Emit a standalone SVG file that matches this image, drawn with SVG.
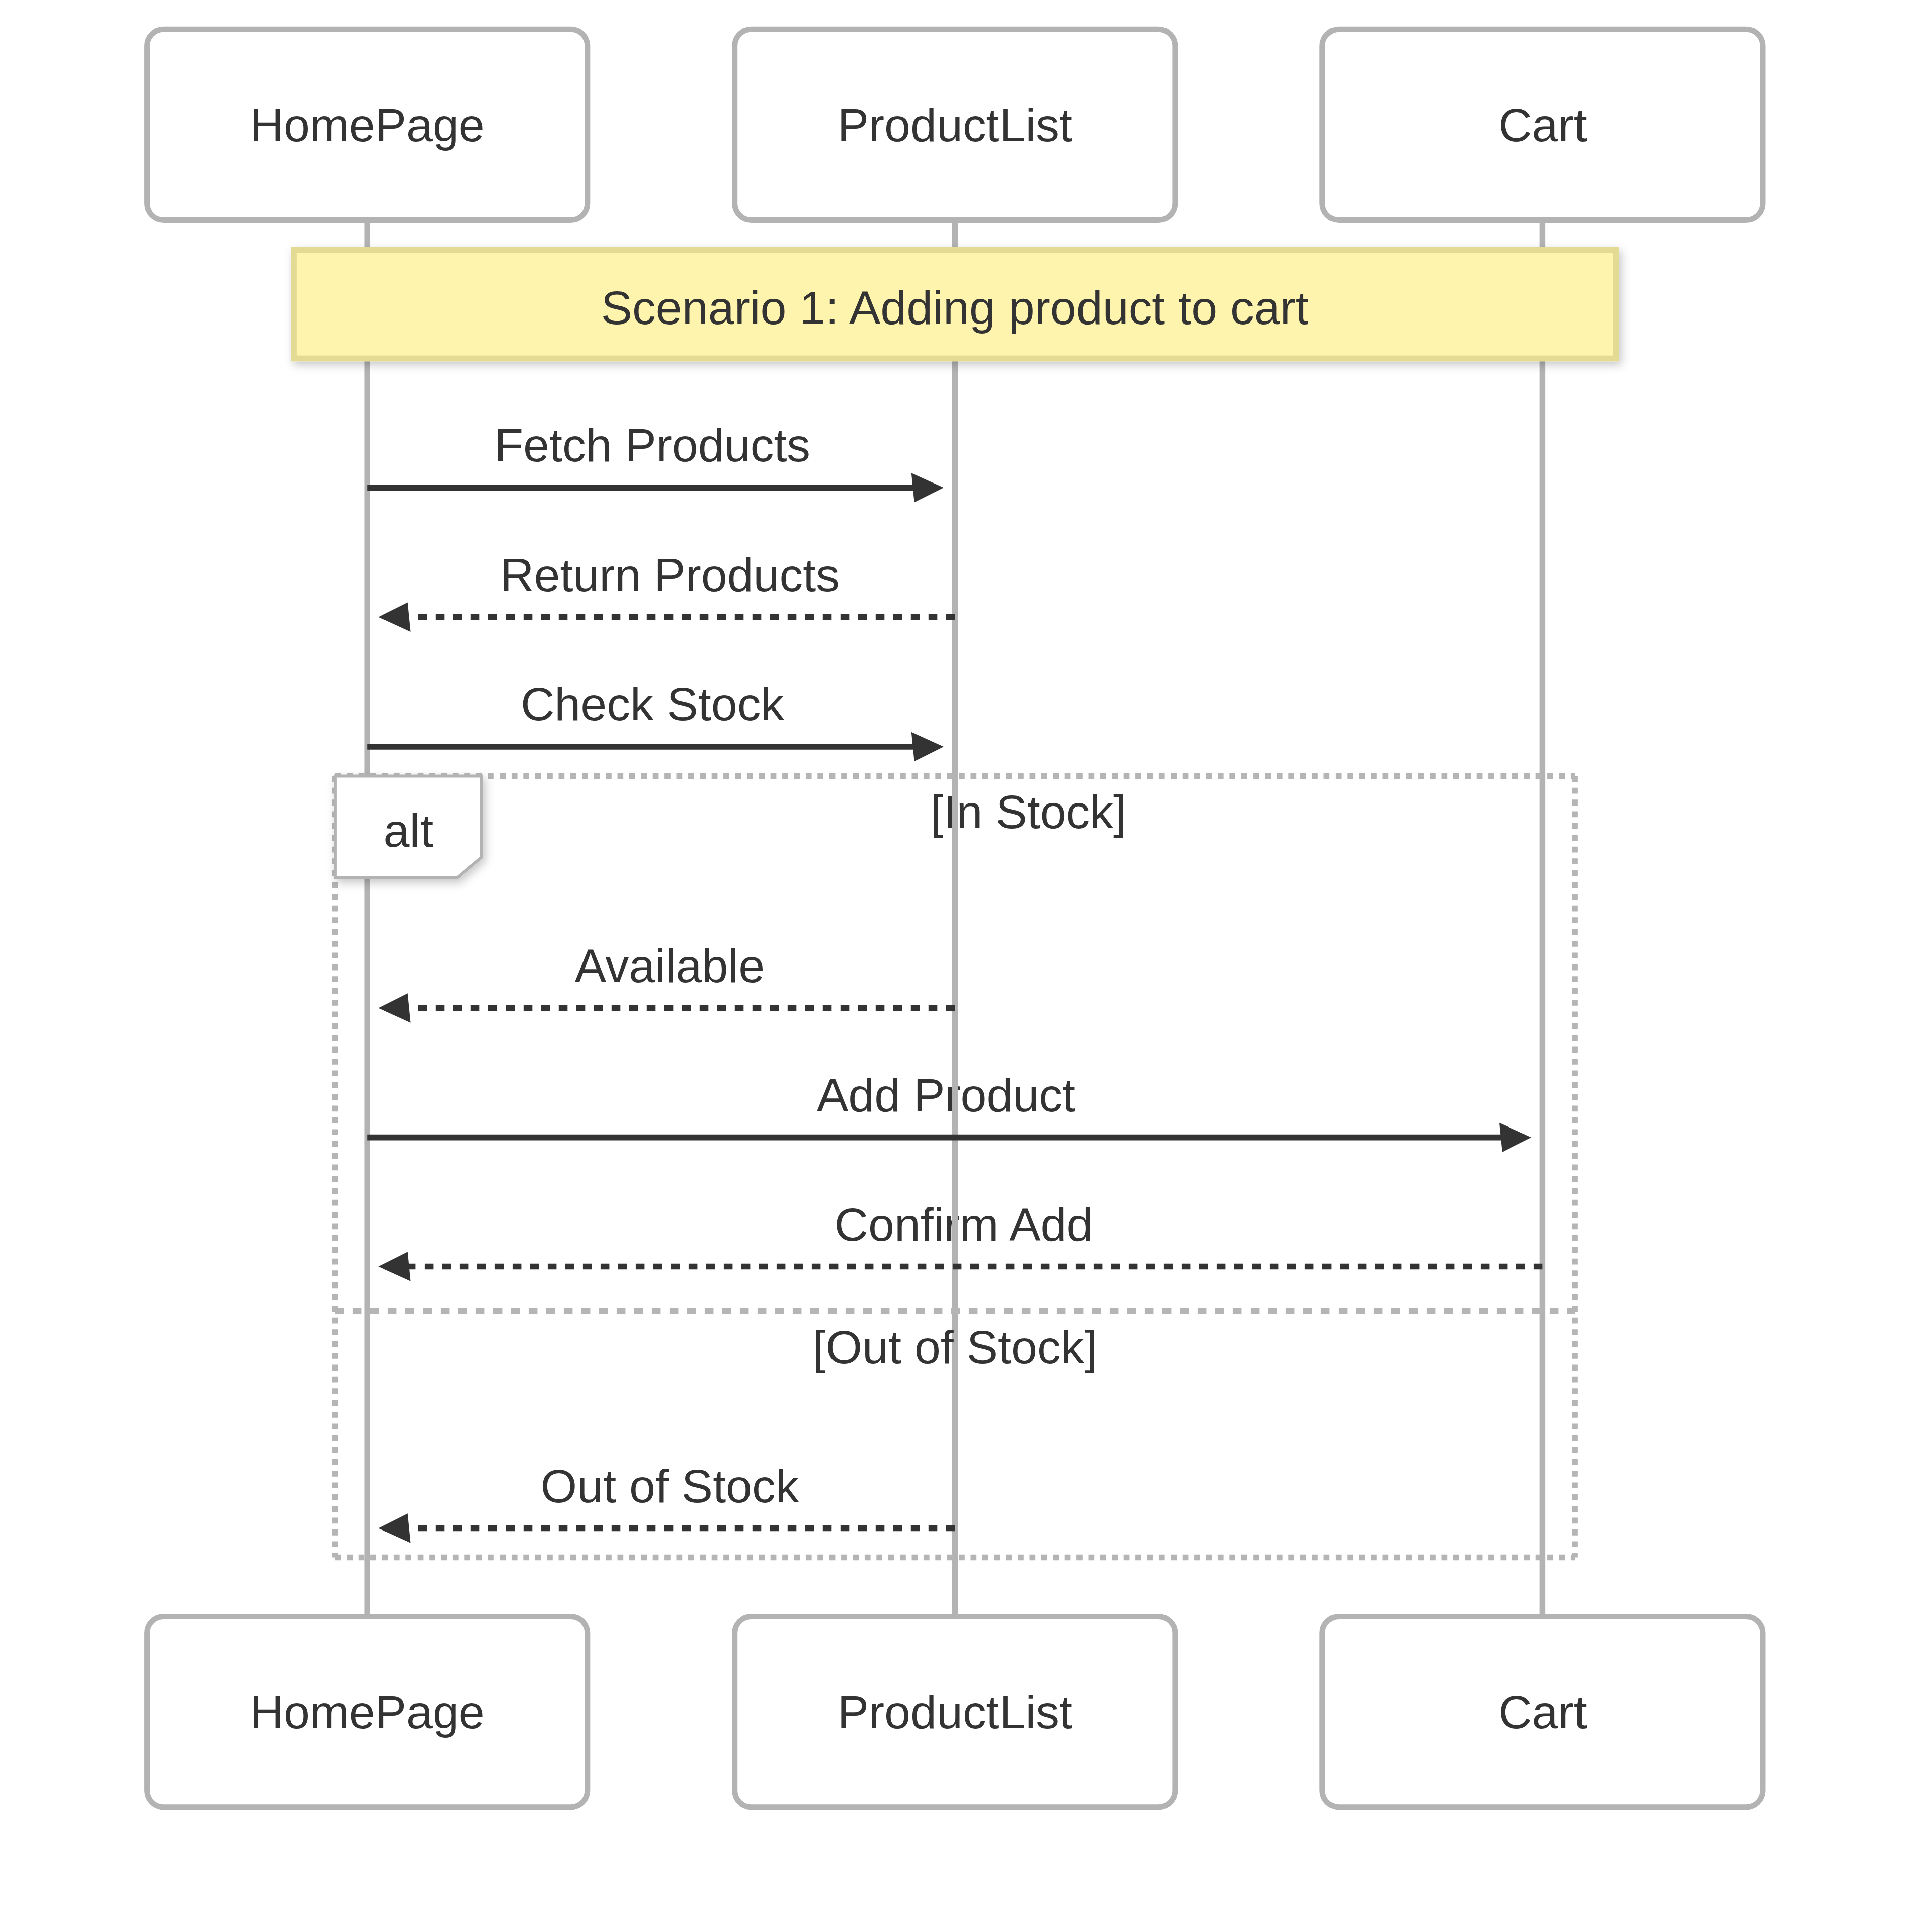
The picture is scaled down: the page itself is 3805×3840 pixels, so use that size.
<svg xmlns="http://www.w3.org/2000/svg" width="3805" height="3840" viewBox="0 0 3805 3840">
<style>
  text { font-family: "Liberation Sans", Arial, sans-serif; font-size: 93.4px; fill: #333333; text-anchor: middle; }
  .actor { fill: #ffffff; stroke: #b3b3b3; stroke-width: 11; }
  .lifeline { stroke: #b3b3b3; stroke-width: 11.5; }
  .msg { stroke: #333333; stroke-width: 11.7; fill: none; }
  .dotted { stroke-dasharray: 17.5 17.5; }
  .loop { stroke: #b5b5b5; stroke-width: 11.7; stroke-dasharray: 11.7 11.7; fill: none; }
  .sect { stroke: #b5b5b5; stroke-width: 11.7; stroke-dasharray: 17.5 17.5; fill: none; }
  .note { fill: #fff4ad; stroke: #e3da94; stroke-width: 11.7; }
  .label { fill: #ffffff; stroke: #b3b3b3; stroke-width: 6; }
</style>
<defs>
  <marker id="arrowhead" markerUnits="userSpaceOnUse" viewBox="-1 0 11 10" markerWidth="64.2" markerHeight="58.4" refX="7.9" refY="5" orient="auto">
    <path d="M -1 0 L 10 5 L 0 10 z" fill="#333333"/>
  </marker>
  <filter id="shadow" x="-10%" y="-30%" width="130%" height="170%">
    <feDropShadow dx="5" dy="7" stdDeviation="9" flood-color="#000000" flood-opacity="0.22"/>
  </filter>
</defs>
<rect x="0" y="0" width="3805" height="3840" fill="#ffffff"/>

<g id="message-labels">
  <text x="1297" y="917.3">Fetch Products</text>
  <text x="1331.5" y="1174.7">Return Products</text>
  <text x="1297" y="1432">Check Stock</text>
  <text x="1331.5" y="1951.5">Available</text>
  <text x="1881" y="2208.7">Add Product</text>
  <text x="1915.5" y="2465.5">Confirm Add</text>
  <text x="1331.5" y="2985.5">Out of Stock</text>
</g>

<g id="lifelines">
  <line class="lifeline" x1="730.2" y1="437.5" x2="730.2" y2="3212.5"/>
  <line class="lifeline" x1="1898.3" y1="437.5" x2="1898.3" y2="3212.5"/>
  <line class="lifeline" x1="3066.4" y1="437.5" x2="3066.4" y2="3212.5"/>
</g>

<g id="actor-HomePage-top">
  <rect class="actor" x="292.6" y="58.3" width="875.2" height="379.2" rx="33" ry="33"/>
  <text x="730.2" y="281.2">HomePage</text>
</g>
<g id="actor-ProductList-top">
  <rect class="actor" x="1460.7" y="58.3" width="875.2" height="379.2" rx="33" ry="33"/>
  <text x="1898.3" y="281.2">ProductList</text>
</g>
<g id="actor-Cart-top">
  <rect class="actor" x="2628.8" y="58.3" width="875.2" height="379.2" rx="33" ry="33"/>
  <text x="3066.4" y="281.2">Cart</text>
</g>

<g id="note-scenario">
  <rect class="note" x="584" y="496.3" width="2628.6" height="216.2" filter="url(#shadow)"/>
  <text x="1898.3" y="644">Scenario 1: Adding product to cart</text>
</g>

<g id="alt-frame">
  <line class="loop" x1="665.9" y1="1542.4" x2="3131" y2="1542.4"/>
  <line class="loop" x1="3131" y1="1542.4" x2="3131" y2="3095.5"/>
  <line class="loop" x1="665.9" y1="3095.5" x2="3131" y2="3095.5"/>
  <line class="loop" x1="665.9" y1="1542.4" x2="665.9" y2="3095.5"/>
  <line class="sect" x1="665.9" y1="2605.8" x2="3131" y2="2605.8"/>
  <polygon class="label" points="665.9,1542.4 957.7,1542.4 957.7,1704 908.6,1745 665.9,1745" filter="url(#shadow)"/>
  <text x="811.8" y="1682.7">alt</text>
  <text x="2044.3" y="1646.4">[In Stock]</text>
  <text x="1898.4" y="2710">[Out of Stock]</text>
</g>

<g id="connectors">
  <line class="msg" x1="730.2" y1="969.3" x2="1863.7" y2="969.3" marker-end="url(#arrowhead)"/>
  <line class="msg dotted" x1="1898.3" y1="1226.7" x2="764.6" y2="1226.7" marker-end="url(#arrowhead)"/>
  <line class="msg" x1="730.2" y1="1484" x2="1863.7" y2="1484" marker-end="url(#arrowhead)"/>
  <line class="msg dotted" x1="1898.3" y1="2003.5" x2="764.6" y2="2003.5" marker-end="url(#arrowhead)"/>
  <line class="msg" x1="730.2" y1="2260.7" x2="3031.9" y2="2260.7" marker-end="url(#arrowhead)"/>
  <line class="msg dotted" x1="3066.4" y1="2517.5" x2="764.6" y2="2517.5" marker-end="url(#arrowhead)"/>
  <line class="msg dotted" x1="1898.3" y1="3037.5" x2="764.6" y2="3037.5" marker-end="url(#arrowhead)"/>
</g>

<g id="actor-HomePage-bottom">
  <rect class="actor" x="292.6" y="3212.5" width="875.2" height="379.2" rx="33" ry="33"/>
  <text x="730.2" y="3435.4">HomePage</text>
</g>
<g id="actor-ProductList-bottom">
  <rect class="actor" x="1460.7" y="3212.5" width="875.2" height="379.2" rx="33" ry="33"/>
  <text x="1898.3" y="3435.4">ProductList</text>
</g>
<g id="actor-Cart-bottom">
  <rect class="actor" x="2628.8" y="3212.5" width="875.2" height="379.2" rx="33" ry="33"/>
  <text x="3066.4" y="3435.4">Cart</text>
</g>
</svg>
